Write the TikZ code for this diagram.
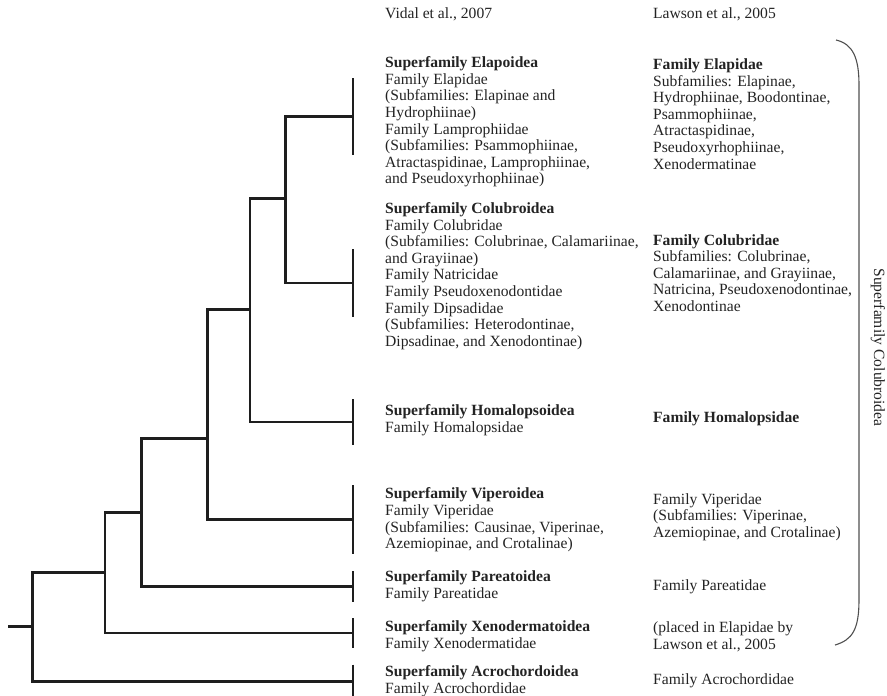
\documentclass[tikz,border=0pt]{standalone}
\usepackage{fontspec}
\setmainfont{Liberation Serif}
\usepackage{tikz}
\usetikzlibrary{positioning}
\usepackage{xcolor}
\definecolor{treeblack}{RGB}{30,30,30}
\definecolor{textgray}{RGB}{35,35,35}
\definecolor{bracegray}{RGB}{80,80,80}
\tikzstyle{branch} = [line width=2.9pt, color=treeblack]
\tikzstyle{leafbar} = [inner sep=0pt, minimum width=0pt, outer sep=0pt]
\tikzstyle{taxon} = [anchor=west, inner sep=0pt, align=left, text=textgray, font=\fontsize{15.6}{16.6}\selectfont]
\tikzstyle{brace} = [line width=1.1pt, color=bracegray]

\begin{document}
\begin{tikzpicture}[x=1pt, y=-1pt]
\useasboundingbox (0,0) rectangle (887,696);
% column heads
\node (hdvidal) [taxon] at (385,14) {Vidal et al., 2007};
\node (hdlawson) [taxon] at (653,14) {Lawson et al., 2005};

% leaves
\node (elapoidea) [leafbar, minimum height=77pt] at (353,116.5) {};
\node (colubroidea) [leafbar, minimum height=68pt] at (353,283) {};
\node (homalopsoidea) [leafbar, minimum height=46pt] at (353,422) {};
\node (viperoidea) [leafbar, minimum height=69pt] at (353,519.5) {};
\node (pareatoidea) [leafbar, minimum height=31pt] at (353,586.5) {};
\node (xenodermatoidea) [leafbar, minimum height=30pt] at (353,633) {};
\node (acrochordoidea) [leafbar, minimum height=34pt] at (353,681.5) {};
\foreach \leaf in {elapoidea,colubroidea,homalopsoidea,viperoidea,pareatoidea,xenodermatoidea,acrochordoidea}
  \draw[branch] (\leaf.north) -- (\leaf.south);

% inner nodes
\coordinate (jelapcol) at (285.7,198.3);
\coordinate (jhomal) at (250,309.3);
\coordinate (jviper) at (207.3,438.3);
\coordinate (jpareat) at (141.7,512.3);
\coordinate (jxeno) at (105,572.3);
\coordinate (jacro) at (32.3,626.7);
\coordinate (root) at (8,626.7);

\draw[branch] (jelapcol) |- (elapoidea);
\draw[branch] (jelapcol) |- (colubroidea);
\draw[branch] (jhomal) |- (jelapcol);
\draw[branch] (jhomal) |- (homalopsoidea);
\draw[branch] (jviper) |- (jhomal);
\draw[branch] (jviper) |- (viperoidea);
\draw[branch] (jpareat) |- (jviper);
\draw[branch] (jpareat) |- (pareatoidea);
\draw[branch] (jxeno) |- (jpareat);
\draw[branch] (jxeno) |- (xenodermatoidea);
\draw[branch] (jacro) |- (jxeno);
\draw[branch] (jacro) |- (acrochordoidea);
\draw[branch] (root) -- (jacro);

% Vidal et al.
\node (txelapoidea) [taxon] at (385,122) {\textbf{Superfamily Elapoidea}\\Family Elapidae\\(Subfamilies: Elapinae and\\Hydrophiinae)\\Family Lamprophiidae\\(Subfamilies: Psammophiinae,\\Atractaspidinae, Lamprophiinae,\\and Pseudoxyrhophiinae)};
\node (txcolubroidea) [taxon] at (385,276) {\textbf{Superfamily Colubroidea}\\Family Colubridae\\(Subfamilies: Colubrinae, Calamariinae,\\and Grayiinae)\\Family Natricidae\\Family Pseudoxenodontidae\\Family Dipsadidae\\(Subfamilies: Heterodontinae,\\Dipsadinae, and Xenodontinae)};
\node (txhomalopsoidea) [taxon] at (385,420) {\textbf{Superfamily Homalopsoidea}\\Family Homalopsidae};
\node (txviperoidea) [taxon] at (385,520) {\textbf{Superfamily Viperoidea}\\Family Viperidae\\(Subfamilies: Causinae, Viperinae,\\Azemiopinae, and Crotalinae)};
\node (txpareatoidea) [taxon] at (385,586) {\textbf{Superfamily Pareatoidea}\\Family Pareatidae};
\node (txxenodermatoidea) [taxon] at (385,636) {\textbf{Superfamily Xenodermatoidea}\\Family Xenodermatidae};
\node (txacrochordoidea) [taxon] at (385,681) {\textbf{Superfamily Acrochordoidea}\\Family Acrochordidae};

% Lawson et al.
\node (lwelapidae) [taxon] at (653,114) {\textbf{Family Elapidae}\\Subfamilies: Elapinae,\\Hydrophiinae, Boodontinae,\\Psammophiinae,\\Atractaspidinae,\\Pseudoxyrhophiinae,\\Xenodermatinae};
\node (lwcolubridae) [taxon] at (653,273) {\textbf{Family Colubridae}\\Subfamilies: Colubrinae,\\Calamariinae, and Grayiinae,\\Natricina, Pseudoxenodontinae,\\Xenodontinae};
\node (lwhomalopsidae) [taxon] at (653,419) {\textbf{Family Homalopsidae}};
\node (lwviperidae) [taxon] at (653,517) {Family Viperidae\\(Subfamilies: Viperinae,\\Azemiopinae, and Crotalinae)};
\node (lwpareatidae) [taxon] at (653,587) {Family Pareatidae};
\node (lwxeno) [taxon] at (653,637) {(placed in Elapidae by\\Lawson et al., 2005};
\node (lwacrochordidae) [taxon] at (653,681) {Family Acrochordidae};

% brace
\coordinate (bracetop) at (836,40);
\coordinate (bracebot) at (835,645);
\draw[brace] (bracetop) .. controls (853,44) and (859,58) .. (859,85) -- (859,600) .. controls (859,630) and (852,640) .. (bracebot);
\node (bracelabel) [taxon, anchor=center, rotate=-90] at (878,347.5) {Superfamily Colubroidea};
\end{tikzpicture}
\end{document}
